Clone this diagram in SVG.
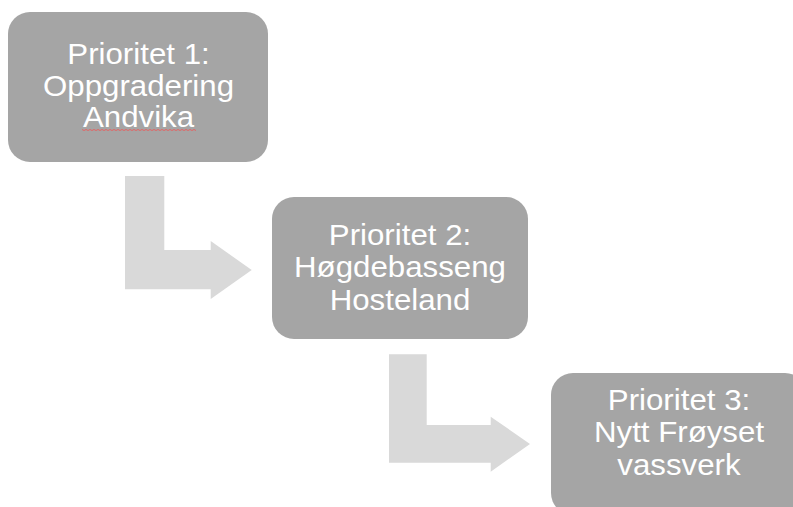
<svg xmlns="http://www.w3.org/2000/svg" width="793" height="507" viewBox="0 0 793 507">
<style>
.box{fill:#a5a5a5}
.arrow{fill:#d9d9d9}
.t{font-family:"Liberation Sans",Arial,sans-serif;font-size:29.5px;fill:#ffffff;text-anchor:middle}
.sq{fill:none;stroke:#e06666;stroke-width:1}
</style>
<rect width="793" height="507" fill="#ffffff"/>
<g id="connectors">
<polygon class="arrow" points="125,176 164.3,176 164.3,250 210.7,250 210.7,241 251.7,270 210.7,299 210.7,289.3 125,289.3"/>
<polygon class="arrow" points="389,354.3 426.7,354.3 426.7,425 490.7,425 490.7,416.7 530,444 490.7,471.7 490.7,462.7 389,462.7"/>
</g>
<g id="node1">
<rect class="box" x="8" y="12" width="260" height="150" rx="22"/>
<text class="t" transform="translate(138.5,63.6) scale(1.06,1)">Prioritet 1:</text>
<text class="t" transform="translate(138.5,95.8) scale(1.06,1)">Oppgradering</text>
<text class="t" transform="translate(138.5,127.2) scale(1.06,1)">Andvika</text>
<path class="sq" d="M82,129.5 l2,1 l2,-1 l2,1 l2,-1 l2,1 l2,-1 l2,1 l2,-1 l2,1 l2,-1 l2,1 l2,-1 l2,1 l2,-1 l2,1 l2,-1 l2,1 l2,-1 l2,1 l2,-1 l2,1 l2,-1 l2,1 l2,-1 l2,1 l2,-1 l2,1 l2,-1 l2,1 l2,-1 l2,1 l2,-1 l2,1 l2,-1 l2,1 l2,-1 l2,1 l2,-1 l2,1 l2,-1 l2,1 l2,-1 l2,1 l2,-1 l2,1 l2,-1 l2,1 l2,-1 l2,1 l2,-1 l2,1 l2,-1 l2,1 l2,-1 l2,1 l2,-1 l2,1"/>
</g>
<g id="node2">
<rect class="box" x="272" y="197" width="256" height="142" rx="22"/>
<text class="t" transform="translate(400,245) scale(1.06,1)">Prioritet 2:</text>
<text class="t" transform="translate(400,277.3) scale(1.06,1)">Høgdebasseng</text>
<text class="t" transform="translate(400,310) scale(1.06,1)">Hosteland</text>
</g>
<g id="node3">
<rect class="box" x="551" y="373" width="256" height="142" rx="22"/>
<text class="t" transform="translate(679,410) scale(1.06,1)">Prioritet 3:</text>
<text class="t" transform="translate(679,442.3) scale(1.06,1)">Nytt Frøyset</text>
<text class="t" transform="translate(679,475) scale(1.06,1)">vassverk</text>
</g>
</svg>
